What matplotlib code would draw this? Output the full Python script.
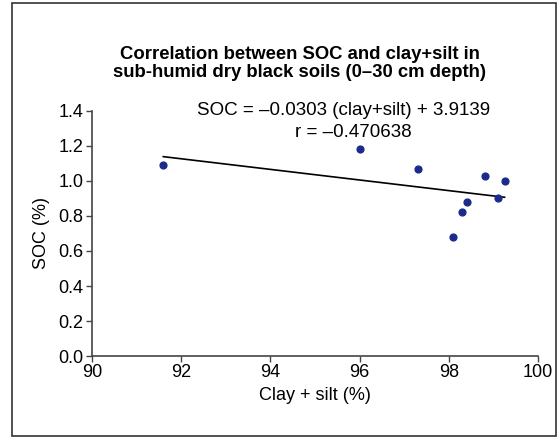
import matplotlib.pyplot as plt
from matplotlib.patches import Rectangle

plt.rcParams['font.family'] = ['Liberation Sans', 'DejaVu Sans']

# clay+silt (%) vs SOC (%)
clay_silt = [91.6, 96.0, 97.3, 98.1, 98.3, 98.4, 98.8, 99.1, 99.25]
soc = [1.09, 1.18, 1.07, 0.68, 0.82, 0.88, 1.03, 0.90, 1.00]

# regression from the chart
slope = -0.0303
intercept = 3.9139
r_value = -0.470638

x_ticks = [90, 92, 94, 96, 98, 100]
y_ticks = [0.0, 0.2, 0.4, 0.6, 0.8, 1.0, 1.2, 1.4]

fig = plt.figure(figsize=(5.57, 4.38), dpi=100)
ax = fig.add_axes([0.165, 0.187, 0.801, 0.56])

# trend line over the data range
x_line = [min(clay_silt), max(clay_silt)]
y_line = [slope * x + intercept for x in x_line]
ax.plot(x_line, y_line, color='black', lw=1.2, zorder=2)
ax.scatter(clay_silt, soc, s=24, color='#1c2b8a', zorder=3)

ax.set_xlim(90, 100)
ax.set_ylim(0, 1.4)
ax.set_xticks(x_ticks)
ax.set_yticks(y_ticks)
ax.set_yticklabels([f"{v:.1f}" for v in y_ticks])
ax.tick_params(direction='out', length=4, width=1, labelsize=13, color='#444444', pad=2)
for s in ['top', 'right']:
    ax.spines[s].set_visible(False)
for s in ['left', 'bottom']:
    ax.spines[s].set_color('#444444')
    ax.spines[s].set_linewidth(1.2)

ax.set_xlabel('Clay + silt (%)', fontsize=13, labelpad=4)
ax.set_ylabel('SOC (%)', fontsize=13, labelpad=6)

ax.text(0.565, 1.0, f"SOC = \u2013{abs(slope):.4f} (clay+silt) + {intercept:.4f}",
        transform=ax.transAxes, ha='center', va='center', fontsize=13.5)
ax.text(0.585, 0.91, f"r = \u2013{abs(r_value):.6f}",
        transform=ax.transAxes, ha='center', va='center', fontsize=13.5)

fig.text(0.538, 0.855, "Correlation between SOC and clay+silt in\nsub-humid dry black soils (0\u201330 cm depth)",
         ha='center', va='center', fontsize=13.3, fontweight='bold', linespacing=1.1)

# frame round the whole chart
fig.patches.append(Rectangle((0.022, 0.005), 0.976, 0.988, transform=fig.transFigure,
                             fill=False, edgecolor='#333333', lw=1.2))

fig.savefig('out.png', dpi=100)
